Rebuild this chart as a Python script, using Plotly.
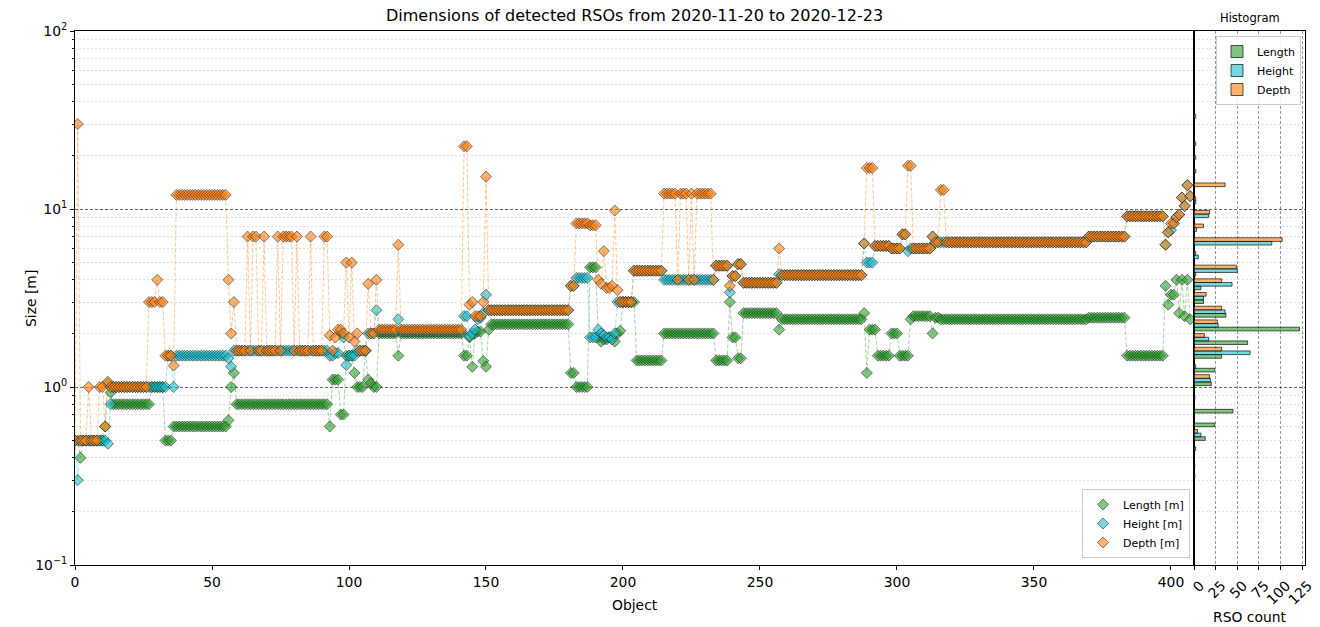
import numpy as np
import plotly.graph_objects as go

# ---------------- data (value, run length) ----------------
N_OBJECTS = 408

LENGTH_RUNS = [
    (0.5, 2), (0.4, 1), (0.5, 8), (0.6, 1), (1.05, 1), (0.93, 1), (0.8, 14), (1.0, 5),
    (0.5, 3), (0.6, 20), (0.65, 1), (1.0, 1), (1.2, 1), (0.8, 34), (0.6, 1), (1.1, 3),
    (0.7, 2), (1.5, 3), (1.2, 1), (1.0, 3), (1.6, 1), (1.1, 1), (1.05, 1), (1.0, 2),
    (2.0, 7), (1.5, 1), (2.0, 23), (1.5, 2), (1.9, 1), (1.3, 1), (2.0, 1), (2.05, 2),
    (1.4, 1), (1.3, 1), (2.1, 1), (2.25, 29), (1.2, 2), (1.0, 5), (4.7, 3), (1.9, 1),
    (1.8, 1), (1.85, 2), (1.9, 2), (1.8, 1), (2.0, 1), (2.07, 1), (3.0, 5), (1.41, 10),
    (2.0, 19), (1.41, 5), (3.0, 1), (1.9, 2), (1.45, 2), (2.6, 13), (2.1, 1), (2.4, 30),
    (2.6, 1), (1.2, 1), (2.1, 3), (1.5, 5), (2.0, 3), (1.5, 4), (2.4, 1), (2.5, 7),
    (2.0, 1), (2.45, 2), (2.4, 54), (2.45, 14), (1.5, 14),
    (3.7, 1), (2.9, 1), (3.3, 2), (4.0, 1), (2.6, 1), (4.0, 1), (2.5, 1), (4.0, 1), (2.4, 1),
]

HEIGHT_RUNS = [
    (0.5, 1), (0.3, 1), (0.5, 10), (0.48, 1), (0.8, 1), (1.0, 20), (1.5, 2), (1.0, 1),
    (1.5, 19), (1.45, 1), (1.3, 1), (1.6, 35), (1.5, 2), (1.55, 2), (2.0, 1), (1.9, 1),
    (1.33, 1), (1.5, 3), (1.6, 4), (2.0, 3), (2.7, 1), (2.05, 7), (2.4, 1), (2.05, 23),
    (2.5, 2), (1.93, 1), (2.0, 1), (2.1, 1), (2.4, 1), (2.45, 1), (2.6, 1), (3.3, 1),
    (2.7, 30), (3.7, 2), (4.1, 5), (1.9, 3), (2.1, 1), (2.0, 1), (1.95, 1), (1.9, 2),
    (1.85, 1), (2.0, 1), (3.0, 6), (4.5, 11), (4.0, 19), (4.8, 5), (3.4, 1), (4.2, 2),
    (4.9, 2), (3.85, 13), (4.3, 1), (4.25, 30), (6.4, 1), (5.0, 3), (6.2, 6), (6.0, 4),
    (7.2, 2), (5.8, 1), (6.0, 8), (7.0, 1), (6.5, 56), (7.0, 14), (9.1, 14),
    (6.3, 1), (7.4, 1), (7.6, 1), (8.3, 1), (9.0, 1), (9.3, 1), (11.6, 1), (10.4, 1),
    (13.6, 1), (11.8, 1),
]

DEPTH_RUNS = [
    (0.5, 1), (30.0, 1), (0.5, 3), (1.0, 1), (0.5, 3), (1.0, 2), (0.6, 1), (1.07, 1),
    (1.0, 14), (3.0, 3), (4.0, 1), (3.0, 2), (1.5, 3), (1.32, 1), (12.0, 19), (4.0, 1),
    (2.0, 1), (3.0, 1),
    (1.6, 4), (7.0, 1), (1.6, 1), (7.0, 2), (1.6, 2), (7.0, 1), (1.6, 4), (7.0, 1),
    (1.6, 1), (7.0, 4), (1.6, 1), (7.0, 1), (1.6, 4), (7.0, 1), (1.6, 4), (7.0, 2),
    (1.95, 1), (1.6, 1), (1.9, 1), (2.1, 2), (2.0, 1), (5.0, 1), (1.9, 1), (5.0, 1),
    (1.8, 1), (2.0, 1), (1.6, 3), (3.8, 1), (2.0, 2), (4.0, 1), (2.1, 7), (6.3, 1),
    (2.1, 23), (22.5, 2), (2.9, 1), (3.0, 1), (2.5, 3), (3.0, 1), (15.2, 1), (2.7, 30),
    (3.7, 2), (8.3, 5), (8.1, 3), (4.0, 1), (3.8, 1), (5.8, 1), (3.6, 2), (3.7, 1),
    (9.8, 1), (3.5, 1), (3.0, 5), (4.5, 11), (12.2, 5), (4.0, 1), (12.2, 3), (4.0, 1),
    (12.2, 1), (4.0, 1), (12.2, 6), (4.0, 1), (4.8, 5), (3.7, 1), (4.2, 2), (4.9, 2),
    (3.85, 13), (6.0, 1), (4.25, 30), (6.4, 1), (17.0, 3), (6.2, 6), (6.0, 4), (7.2, 2),
    (17.5, 2), (6.0, 7), (7.0, 1), (6.5, 2), (12.8, 2), (6.5, 52), (7.0, 14), (9.1, 14),
    (6.3, 1), (7.4, 1), (8.3, 2), (9.0, 1), (9.3, 1), (11.6, 1), (10.4, 1), (13.6, 1),
    (11.8, 1),
]

# Histogram: 39 log-spaced bins between 0.1 m and 100 m (counts)
HIST_LOG_MIN, HIST_LOG_MAX, HIST_N_BINS = -1.0, 2.0, 39
LENGTH_COUNTS = [0, 0, 0, 0, 0, 0, 0, 1, 0, 13, 24, 45, 1, 20, 24, 32, 62, 122, 37, 11,
                 8, 2, 0, 0, 0, 0, 0, 0, 0, 0, 0, 0, 0, 0, 0, 0, 0, 0, 0]
HEIGHT_COUNTS = [0, 0, 0, 0, 0, 0, 1, 0, 2, 8, 0, 0, 0, 19, 2, 65, 17, 28, 36, 11,
                 44, 50, 5, 90, 3, 17, 2, 0, 0, 0, 0, 0, 0, 0, 0, 0, 0, 0, 0]
DEPTH_COUNTS = [0, 0, 0, 0, 0, 0, 0, 0, 0, 4, 0, 0, 0, 18, 0, 32, 12, 27, 32, 14,
                32, 49, 2, 102, 11, 18, 2, 36, 2, 2, 2, 0, 2, 0, 0, 0, 0, 0, 0]

X_TICKS = [0, 50, 100, 150, 200, 250, 300, 350, 400]
Y_TICKS = [0.1, 1, 10, 100]
Y_TICKTEXT = ["10<sup>\u22121</sup>", "10<sup>0</sup>", "10<sup>1</sup>", "10<sup>2</sup>"]
HIST_TICKS = [0, 25, 50, 75, 100, 125]

TITLE = "Dimensions of detected RSOs from 2020-11-20 to 2020-12-23"


def expand(runs):
    out = []
    for v, n in runs:
        out.extend([v] * n)
    return out


length = expand(LENGTH_RUNS)
height = expand(HEIGHT_RUNS)
depth = expand(DEPTH_RUNS)
assert len(length) == len(height) == len(depth) == N_OBJECTS, (len(length), len(height), len(depth))
objects = list(range(N_OBJECTS))

# ---------------- styling ----------------
W, H = 1320, 627
FONT = "DejaVu Sans"
PX_L, PX_R, PX_H = 75, 1194, 1305
PY_T, PY_B = 31, 565
x_main = [PX_L / W, PX_R / W]
x_hist = [PX_R / W, PX_H / W]
y_dom = [(H - PY_B) / H, (H - PY_T) / H]

GREEN = (44, 160, 44)
CYAN = (23, 190, 207)
ORANGE = (255, 127, 14)


def rgba(c, a):
    return f"rgba({c[0]},{c[1]},{c[2]},{a})"


fig = go.Figure()

series = [("Length", length, GREEN), ("Height", height, CYAN), ("Depth", depth, ORANGE)]
for name, vals, col in series:
    fig.add_trace(go.Scatter(
        x=objects, y=vals, mode="lines", showlegend=False, hoverinfo="skip",
        line=dict(color=rgba(col, 0.55), width=0.8, dash="4px,2px"),
        xaxis="x", yaxis="y"))
    fig.add_trace(go.Scatter(
        x=objects, y=vals, mode="markers", name=f"{name} [m]", legend="legend",
        marker=dict(symbol="diamond", size=8.5, color=rgba(col, 0.6),
                    line=dict(color="rgba(20,20,20,0.65)", width=0.8)),
        xaxis="x", yaxis="y"))

# histogram bars (log-space position axis aligned with the main log axis)
edges = np.linspace(HIST_LOG_MIN, HIST_LOG_MAX, HIST_N_BINS + 1)
centers = 0.5 * (edges[:-1] + edges[1:])
bw = edges[1] - edges[0]
sub = 0.8 * bw / 3
hist_series = [("Length", LENGTH_COUNTS, GREEN), ("Height", HEIGHT_COUNTS, CYAN),
               ("Depth", DEPTH_COUNTS, ORANGE)]
for k, (name, counts, col) in enumerate(hist_series):
    cnt = np.array(counts)
    m = cnt > 0
    fig.add_trace(go.Bar(
        y=centers[m], x=cnt[m], orientation="h", name=name, legend="legend2",
        width=sub, offset=-0.4 * bw + k * sub,
        marker=dict(color=rgba(col, 0.6), line=dict(color="rgba(0,0,0,0.65)", width=1)),
        xaxis="x2", yaxis="y2", hoverinfo="skip"))

minor_vals = [m * 10.0 ** e for e in (-1, 0, 1) for m in range(2, 10)]
MAJOR_GRID = dict(gridcolor="rgba(0,0,0,0.6)", griddash="3px,2px", gridwidth=0.8)
MINOR_GRID = dict(gridcolor="rgba(0,0,0,0.12)", griddash="2px,2px", gridwidth=0.8)
TICKFONT = dict(family=FONT, size=13.9, color="black")


def label(text, px, py, size, angle=0):
    return dict(text=text, x=px / W, y=(H - py) / H, xref="paper", yref="paper",
                xanchor="center", yanchor="middle", showarrow=False, textangle=angle,
                font=dict(family=FONT, size=size, color="black"))


fig.update_layout(
    width=W, height=H, margin=dict(l=0, r=0, t=0, b=0, autoexpand=False),
    paper_bgcolor="white", plot_bgcolor="white", barmode="overlay",
    font=dict(family=FONT, color="black"),
    xaxis=dict(domain=x_main, anchor="y", range=[0, 408.4], tickvals=X_TICKS,
               ticks="outside", ticklen=4, tickwidth=1, tickcolor="black",
               showline=True, mirror=True, linecolor="black", linewidth=1,
               showgrid=False, zeroline=False, tickfont=TICKFONT),
    yaxis=dict(domain=y_dom, anchor="x", type="log", range=[-1, 2],
               tickmode="array", tickvals=Y_TICKS, ticktext=Y_TICKTEXT,
               ticks="outside", ticklen=4, tickwidth=1, tickcolor="black",
               showline=True, mirror=True, linecolor="black", linewidth=1,
               showgrid=True, zeroline=False, tickfont=TICKFONT, **MAJOR_GRID,
               minor=dict(tickmode="array", tickvals=minor_vals, ticks="outside", ticklen=2,
                          tickcolor="black", showgrid=True, **MINOR_GRID)),
    xaxis2=dict(domain=x_hist, anchor="y2", range=[0, 128.4], tickvals=HIST_TICKS,
                tickangle=-45, ticks="outside", ticklen=4, tickcolor="black",
                ticklabelshift=6, ticklabelstandoff=2,
                showline=True, mirror=True, linecolor="black", linewidth=1,
                showgrid=True, gridcolor="rgba(0,0,0,0.4)", griddash="3px,2px", gridwidth=0.8,
                zeroline=False, tickfont=TICKFONT),
    yaxis2=dict(domain=y_dom, anchor="x2", range=[-1, 2], tickmode="array",
                tickvals=[-1, 0, 1, 2], showticklabels=False, ticks="",
                showline=True, mirror=True, linecolor="black", linewidth=1,
                showgrid=True, zeroline=False, **MAJOR_GRID,
                minor=dict(tickmode="array", tickvals=[float(np.log10(v)) for v in minor_vals],
                           ticks="", showgrid=True, **MINOR_GRID)),
    legend=dict(x=1190 / W, xanchor="right", y=(H - 558) / H, yanchor="bottom",
                bgcolor="rgba(255,255,255,0.85)", bordercolor="#cccccc", borderwidth=1,
                font=dict(family=FONT, size=11, color="black"), tracegroupgap=0),
    legend2=dict(x=1301 / W, xanchor="right", y=(H - 36) / H, yanchor="top",
                 bgcolor="rgba(255,255,255,0.85)", bordercolor="#cccccc", borderwidth=1,
                 font=dict(family=FONT, size=11, color="black"), tracegroupgap=0),
    annotations=[
        label(TITLE, (PX_L + PX_R) / 2, 16, 16),
        label("Histogram", (PX_R + PX_H) / 2, 18, 11.5),
        label("Object", (PX_L + PX_R) / 2, 605, 13.9),
        label("Size [m]", 31, 298, 13.9, -90),
        label("RSO count", 1250, 617, 13.9),
    ],
)

fig.write_html("out.html", config={"displayModeBar": False},
               post_script="document.body.style.margin='0px';")
